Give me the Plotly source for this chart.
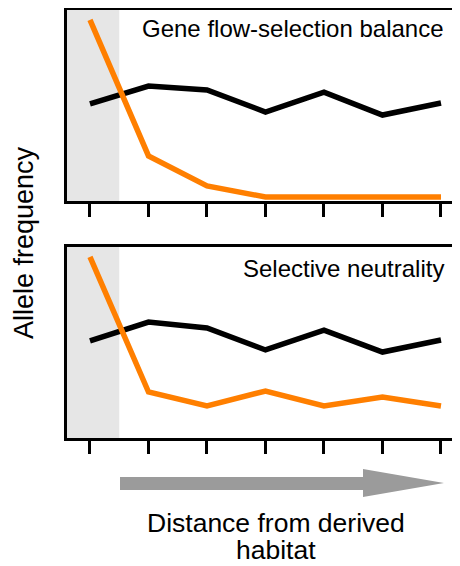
import plotly.graph_objects as go

# ---- data ----
positions = [0, 1, 2, 3, 4, 5, 6]
top_black = [0.508, 0.602, 0.581, 0.466, 0.570, 0.450, 0.513]
top_orange = [0.948, 0.236, 0.079, 0.021, 0.021, 0.021, 0.021]
bot_black = [0.508, 0.607, 0.576, 0.461, 0.565, 0.450, 0.513]
bot_orange = [0.948, 0.241, 0.168, 0.246, 0.168, 0.214, 0.168]
panel_titles = ["Gene flow-selection balance", "Selective neutrality"]
y_label = "Allele frequency"
x_label_lines = ["Distance from derived", "habitat"]

# page body has an 8px margin; figure sized to fit the 460x566 window
OFF = 8
W, H = 460 - OFF, 566 - OFF
ORANGE = "#FF7F00"
FONT = "Liberation Sans, Arial, sans-serif"


def fx(p):
    return (p - OFF) / W


def fy(p):
    return 1 - (p - OFF) / H


fig = go.Figure()
fig.add_trace(go.Scatter(x=positions, y=top_black, mode="lines",
                         line=dict(color="black", width=5.5), xaxis="x", yaxis="y"))
fig.add_trace(go.Scatter(x=positions, y=top_orange, mode="lines",
                         line=dict(color=ORANGE, width=5.5), xaxis="x", yaxis="y"))
fig.add_trace(go.Scatter(x=positions, y=bot_black, mode="lines",
                         line=dict(color="black", width=5.5), xaxis="x2", yaxis="y2"))
fig.add_trace(go.Scatter(x=positions, y=bot_orange, mode="lines",
                         line=dict(color=ORANGE, width=5.5), xaxis="x2", yaxis="y2"))

xrange_ = [-0.393, 6.325]
xdom = [fx(67), 1]
xcommon = dict(range=xrange_, domain=xdom, showgrid=False, zeroline=False,
               showline=True, linecolor="black", linewidth=3, mirror=True,
               ticks="outside", ticklen=13, tickwidth=3, tickcolor="black",
               tickvals=positions, showticklabels=False, fixedrange=True)
ycommon = dict(range=[0, 1], showgrid=False, zeroline=False, showline=True,
               linecolor="black", linewidth=3, showticklabels=False, ticks="",
               fixedrange=True)

fig.update_layout(
    width=W, height=H,
    margin=dict(l=0, r=0, t=0, b=0),
    paper_bgcolor="white", plot_bgcolor="white",
    showlegend=False,
    xaxis=dict(**xcommon, anchor="y"),
    yaxis=dict(**ycommon, domain=[fy(201), fy(10)], anchor="x"),
    xaxis2=dict(**xcommon, anchor="y2"),
    yaxis2=dict(**ycommon, domain=[fy(438), fy(247)], anchor="x2"),
    font=dict(family=FONT, color="black"),
)

# shaded region (derived habitat)
for xr, yr in [("x", "y domain"), ("x2", "y2 domain")]:
    fig.add_shape(type="rect", xref=xr, yref=yr, x0=xrange_[0], x1=0.5, y0=0, y1=1,
                  fillcolor="#E6E6E6", line=dict(width=0), layer="below")


# arrow
def P(x, y):
    return f"{fx(x):.5f},{fy(y):.5f}"


path = ("M " + P(120, 477) + " L " + P(363, 477) + " L " + P(363, 469) +
        " L " + P(444, 483) + " L " + P(363, 497) + " L " + P(363, 490) +
        " L " + P(120, 490) + " Z")
fig.add_shape(type="path", xref="paper", yref="paper", path=path,
              fillcolor="#9B9B9B", line=dict(width=0))

# annotations
fig.add_annotation(text=panel_titles[0], xref="paper", yref="paper",
                   x=fx(446), y=fy(29), xanchor="right", yanchor="middle",
                   showarrow=False, font=dict(size=24))
fig.add_annotation(text=panel_titles[1], xref="paper", yref="paper",
                   x=fx(446), y=fy(268), xanchor="right", yanchor="middle",
                   showarrow=False, font=dict(size=24))
fig.add_annotation(text=y_label, xref="paper", yref="paper",
                   x=fx(24), y=fy(243), xanchor="center", yanchor="middle",
                   textangle=-90, showarrow=False, font=dict(size=27))
fig.add_annotation(text=x_label_lines[0], xref="paper", yref="paper",
                   x=fx(276), y=fy(523), xanchor="center", yanchor="middle",
                   height=26, valign="middle",
                   showarrow=False, font=dict(size=26.5))
fig.add_annotation(text=x_label_lines[1], xref="paper", yref="paper",
                   x=fx(276), y=fy(550), xanchor="center", yanchor="middle",
                   height=26, valign="middle",
                   showarrow=False, font=dict(size=26.5))

fig.write_html("out.html")
